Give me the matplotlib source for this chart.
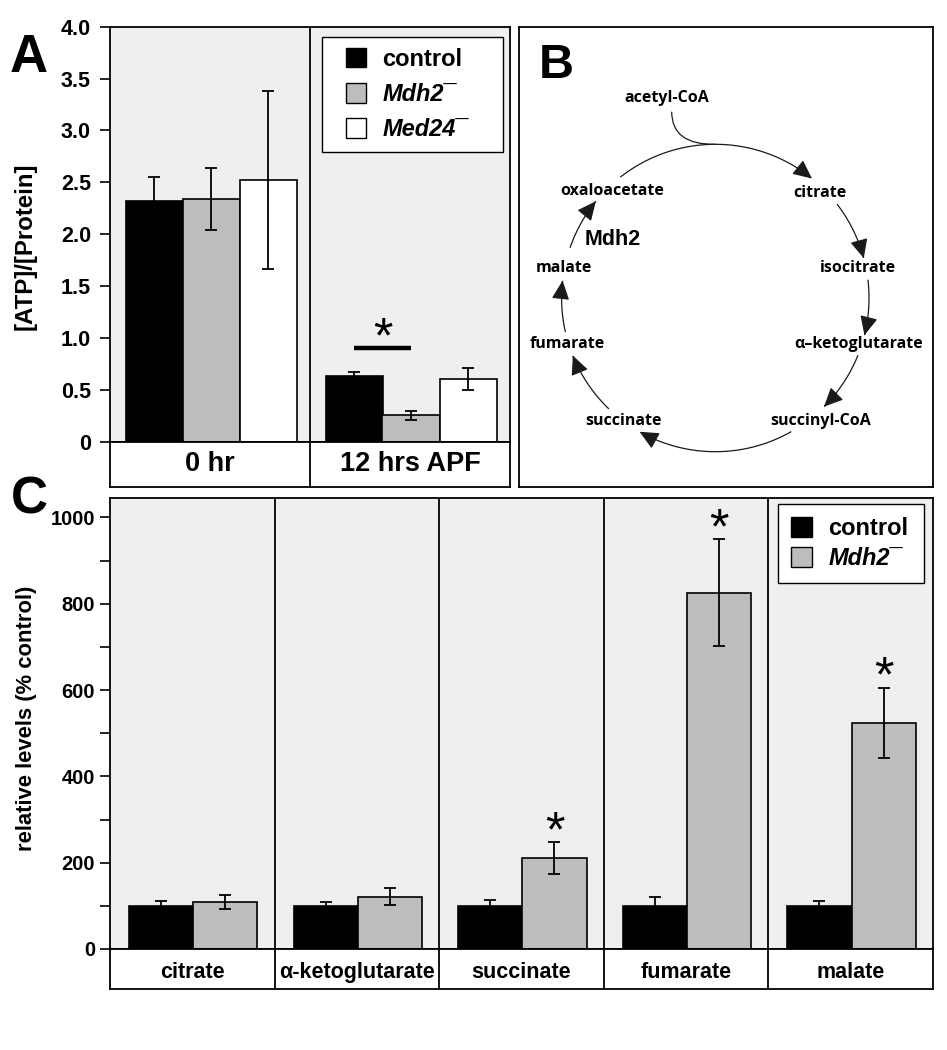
import numpy as np
import matplotlib
matplotlib.use("Agg")
import matplotlib.pyplot as plt
from matplotlib.patches import FancyArrowPatch, PathPatch, Patch, Rectangle
from matplotlib.path import Path
from matplotlib.legend_handler import HandlerPatch

# ---------------- data ----------------
a_groups = ["0 hr", "12 hrs APF"]
a_series = ["control", "Mdh2\u00af", "Med24\u00af"]
a_control = [2.32, 0.63]
a_control_err = [0.23, 0.045]
a_mdh2 = [2.34, 0.254]
a_mdh2_err = [0.30, 0.043]
a_med24 = [2.52, 0.607]
a_med24_err = [0.86, 0.105]
a_yticks = [0, 0.5, 1.0, 1.5, 2.0, 2.5, 3.0, 3.5, 4.0]
a_yticklabels = ["0", "0.5", "1.0", "1.5", "2.0", "2.5", "3.0", "3.5", "4.0"]
a_sig_value = 0.90

c_metabolites = ["citrate", "\u03b1-ketoglutarate", "succinate", "fumarate", "malate"]
c_series = ["control", "Mdh2\u00af"]
c_control = [100, 100, 100, 100, 100]
c_control_err = [10.5, 10, 13.6, 20, 11]
c_mdh2 = [108, 121, 210, 826, 524]
c_mdh2_err = [16, 20, 37, 124, 81.5]
c_signif = [False, False, True, True, True]
c_yticks_major = [0, 200, 400, 600, 800, 1000]
c_yticks_minor = [100, 300, 500, 700, 900]

tca_labels = ["citrate", "isocitrate", "\u03b1\u2013ketoglutarate", "succinyl-CoA",
              "succinate", "fumarate", "malate", "oxaloacetate"]

# ---------------- style ----------------
W, H = 947, 1050
plt.rcParams["font.family"] = ["Liberation Sans", "DejaVu Sans"]
plt.rcParams["font.weight"] = "bold"
BG = "#efefef"
GRAY = "#bdbdbd"
LW = 1.3

fig = plt.figure(figsize=(W / 100, H / 100), dpi=100)


def rect(x0, y0, x1, y1):
    return [x0 / W, 1 - y1 / H, (x1 - x0) / W, (y1 - y0) / H]


def style_main(ax):
    ax.set_facecolor(BG)
    for s in ax.spines.values():
        s.set_linewidth(LW)
    ax.tick_params(axis="x", bottom=False, labelbottom=False)
    ax.tick_params(axis="y", direction="out", length=7.2, width=1.2)


def label_strip(ax, labels, n, fs, ty):
    ax.set_xlim(0, n)
    ax.set_ylim(0, 1)
    ax.set_xticks([])
    ax.set_yticks([])
    for s in ax.spines.values():
        s.set_linewidth(LW)
    for i in range(1, n):
        ax.axvline(i, color="black", lw=LW)
    for i, lab in enumerate(labels):
        ax.text(i + 0.5, ty, lab, ha="center", va="center", fontsize=fs, fontweight="bold")


def right_square(legend, orig_handle, xdescent, ydescent, width, height, fontsize):
    # square swatch placed at the right end of the handle box
    return Rectangle((-xdescent + width - height, -ydescent), height, height)


err_kw = dict(elinewidth=1.3, capthick=1.3, ecolor="black")

# ---------------- Panel A ----------------
axA = fig.add_axes(rect(110, 26.7, 510, 441.7))
style_main(axA)
xa = np.arange(len(a_groups))
wa = 0.285
offs = [0.22, 0.505, 0.79]
cols = ["black", GRAY, "white"]
vals = [a_control, a_mdh2, a_med24]
errs = [a_control_err, a_mdh2_err, a_med24_err]
for o, c, v, e, lab in zip(offs, cols, vals, errs, a_series):
    axA.bar(xa + o, v, wa, color=c, edgecolor="black", lw=1.2, yerr=e,
            capsize=4.3, error_kw=err_kw, label=lab, zorder=2)
axA.set_xlim(0, 2)
axA.set_ylim(0, 4.0)
axA.axvline(1, color="black", lw=LW, zorder=3)
axA.set_yticks(a_yticks)
axA.set_yticklabels(a_yticklabels, fontsize=15.5, fontweight="bold")
axA.tick_params(axis="y", pad=6.5)
axA.set_ylabel("[ATP]/[Protein]", fontsize=17.3, fontweight="bold", va="center")
axA.yaxis.set_label_coords((25 - 110) / 400, 0.47)
# significance bar between control and Mdh2 at 12 hrs
axA.plot([1 + offs[0], 1 + offs[1]], [a_sig_value, a_sig_value], color="black", lw=3.2,
         solid_capstyle="butt", zorder=3)
axA.annotate("*", xy=(1 + (offs[0] + offs[1]) / 2, a_sig_value), xytext=(0, -3),
             textcoords="offset points", ha="center", va="baseline", fontsize=36,
             fontweight="normal")
legA_handles = [Patch(facecolor=c, edgecolor="black", lw=1.0) for c in cols]
legA = axA.legend(legA_handles, a_series, loc="upper left",
                  bbox_to_anchor=(322 / W, 1 - 38 / H, (503 - 322) / W, 0.001),
                  bbox_transform=fig.transFigure, mode="expand", borderaxespad=0,
                  fontsize=17, handlelength=1.4, handleheight=0.9, handletextpad=0.7,
                  labelspacing=0.52, borderpad=0.45, frameon=True, fancybox=False,
                  edgecolor="black", framealpha=1,
                  handler_map={Patch: HandlerPatch(patch_func=right_square)})
legA.get_frame().set_linewidth(1.0)
for t in legA.get_texts()[1:]:
    t.set_fontstyle("italic")

axAl = fig.add_axes(rect(110, 441.7, 510, 487))
label_strip(axAl, a_groups, 2, 19.5, 0.5)

# ---------------- Panel C ----------------
axC = fig.add_axes(rect(110, 498, 933, 949))
style_main(axC)
xc = np.arange(len(c_metabolites))
wc = 0.39
oc = [0.31, 0.70]
axC.bar(xc + oc[0], c_control, wc, color="black", edgecolor="black", lw=1.2,
        yerr=c_control_err, capsize=4.3, error_kw=err_kw, label=c_series[0], zorder=2)
axC.bar(xc + oc[1], c_mdh2, wc, color=GRAY, edgecolor="black", lw=1.2,
        yerr=c_mdh2_err, capsize=4.3, error_kw=err_kw, label=c_series[1], zorder=2)
axC.set_xlim(0, 5)
axC.set_ylim(0, 1045)
for i in range(1, 5):
    axC.axvline(i, color="black", lw=LW, zorder=3)
axC.set_yticks(c_yticks_major)
axC.set_yticklabels([str(v) for v in c_yticks_major], fontsize=14.5, fontweight="bold")
axC.set_yticks(c_yticks_minor, minor=True)
axC.tick_params(axis="y", which="both", direction="out", length=7.2, width=1.2, pad=3.6)
axC.set_ylabel("relative levels (% control)", fontsize=15.8, fontweight="bold", va="center")
axC.yaxis.set_label_coords((26.7 - 110) / 823, 0.5115)
for i, sig in enumerate(c_signif):
    if sig:
        axC.annotate("*", xy=(xc[i] + oc[1], c_mdh2[i] + c_mdh2_err[i]), xytext=(0, -3),
                     textcoords="offset points", ha="center", va="baseline", fontsize=36,
                     fontweight="normal")
legC = axC.legend(loc="upper left",
                  bbox_to_anchor=(777.7 / W, 1 - 505 / H, (924.3 - 777.7) / W, 0.001),
                  bbox_transform=fig.transFigure, mode="expand", borderaxespad=0,
                  fontsize=17, handlelength=0.9, handleheight=0.9, handletextpad=0.7,
                  labelspacing=0.3, borderpad=0.55, frameon=True, fancybox=False,
                  edgecolor="black", framealpha=1)
legC.get_frame().set_linewidth(1.0)
legC.get_texts()[1].set_fontstyle("italic")
for h in legC.legend_handles:
    h.set_linewidth(1.0)

axCl = fig.add_axes(rect(110, 949, 933, 989))
label_strip(axCl, c_metabolites, 5, 15.5, 0.42)

# ---------------- Panel B (TCA cycle diagram) ----------------
axB = fig.add_axes(rect(519, 26.7, 933.3, 486.7))
axB.set_xlim(519, 933.3)
axB.set_ylim(486.7, 26.7)
axB.set_xticks([])
axB.set_yticks([])
for s in axB.spines.values():
    s.set_linewidth(LW)

cx, cy, r = 715.3, 298.0, 153.7
arcs = [(128, 51), (37.5, 15), (6.7, -14), (-22, -45), (-60.5, -119.5),
        (-134, -158), (-167.4, 173.5 - 360), (160.8, 141)]
for a1, a2 in arcs:
    th = np.radians(np.linspace(a1, a2, 80))
    pts = np.column_stack([cx + r * np.cos(th), cy - r * np.sin(th)])
    arr = FancyArrowPatch(path=Path(pts), arrowstyle="-|>,head_length=0.9,head_width=0.42",
                          mutation_scale=13, lw=0.9, color="#1a1a1a", shrinkA=0, shrinkB=0)
    axB.add_patch(arr)
acet = Path([(671.7, 111.7), (671.7, 145.0), (715.3, 144.3)],
            [Path.MOVETO, Path.CURVE3, Path.CURVE3])
axB.add_patch(PathPatch(acet, fill=False, lw=0.9, color="#1a1a1a"))

tca_pos = [(820, 192.7), (858.3, 267.7), (858.3, 344), (821, 421),
           (623.3, 421), (567.7, 344), (564.3, 267.7), (611.7, 191)]
for lab, (x, y) in zip(tca_labels, tca_pos):
    axB.text(x, y, lab, ha="center", va="center", fontsize=11.5, fontweight="bold",
             family=["Open Sans", "DejaVu Sans"])
axB.text(666.7, 97.7, "acetyl-CoA", ha="center", va="center", fontsize=11.5,
         fontweight="bold", family=["Open Sans", "DejaVu Sans"])
axB.text(612.3, 239.3, "Mdh2", ha="center", va="center", fontsize=15.5, fontweight="bold")

# ---------------- panel letters ----------------
fig.text(28.3 / W, 1 - 71.7 / H, "A", ha="center", va="baseline", fontsize=38, fontweight="bold")
fig.text(556.7 / W, 1 - 78.3 / H, "B", ha="center", va="baseline", fontsize=35, fontweight="bold")
fig.text(29.5 / W, 1 - 514 / H, "C", ha="center", va="baseline", fontsize=37, fontweight="bold")

fig.savefig("out.png", dpi=100, facecolor="white")
